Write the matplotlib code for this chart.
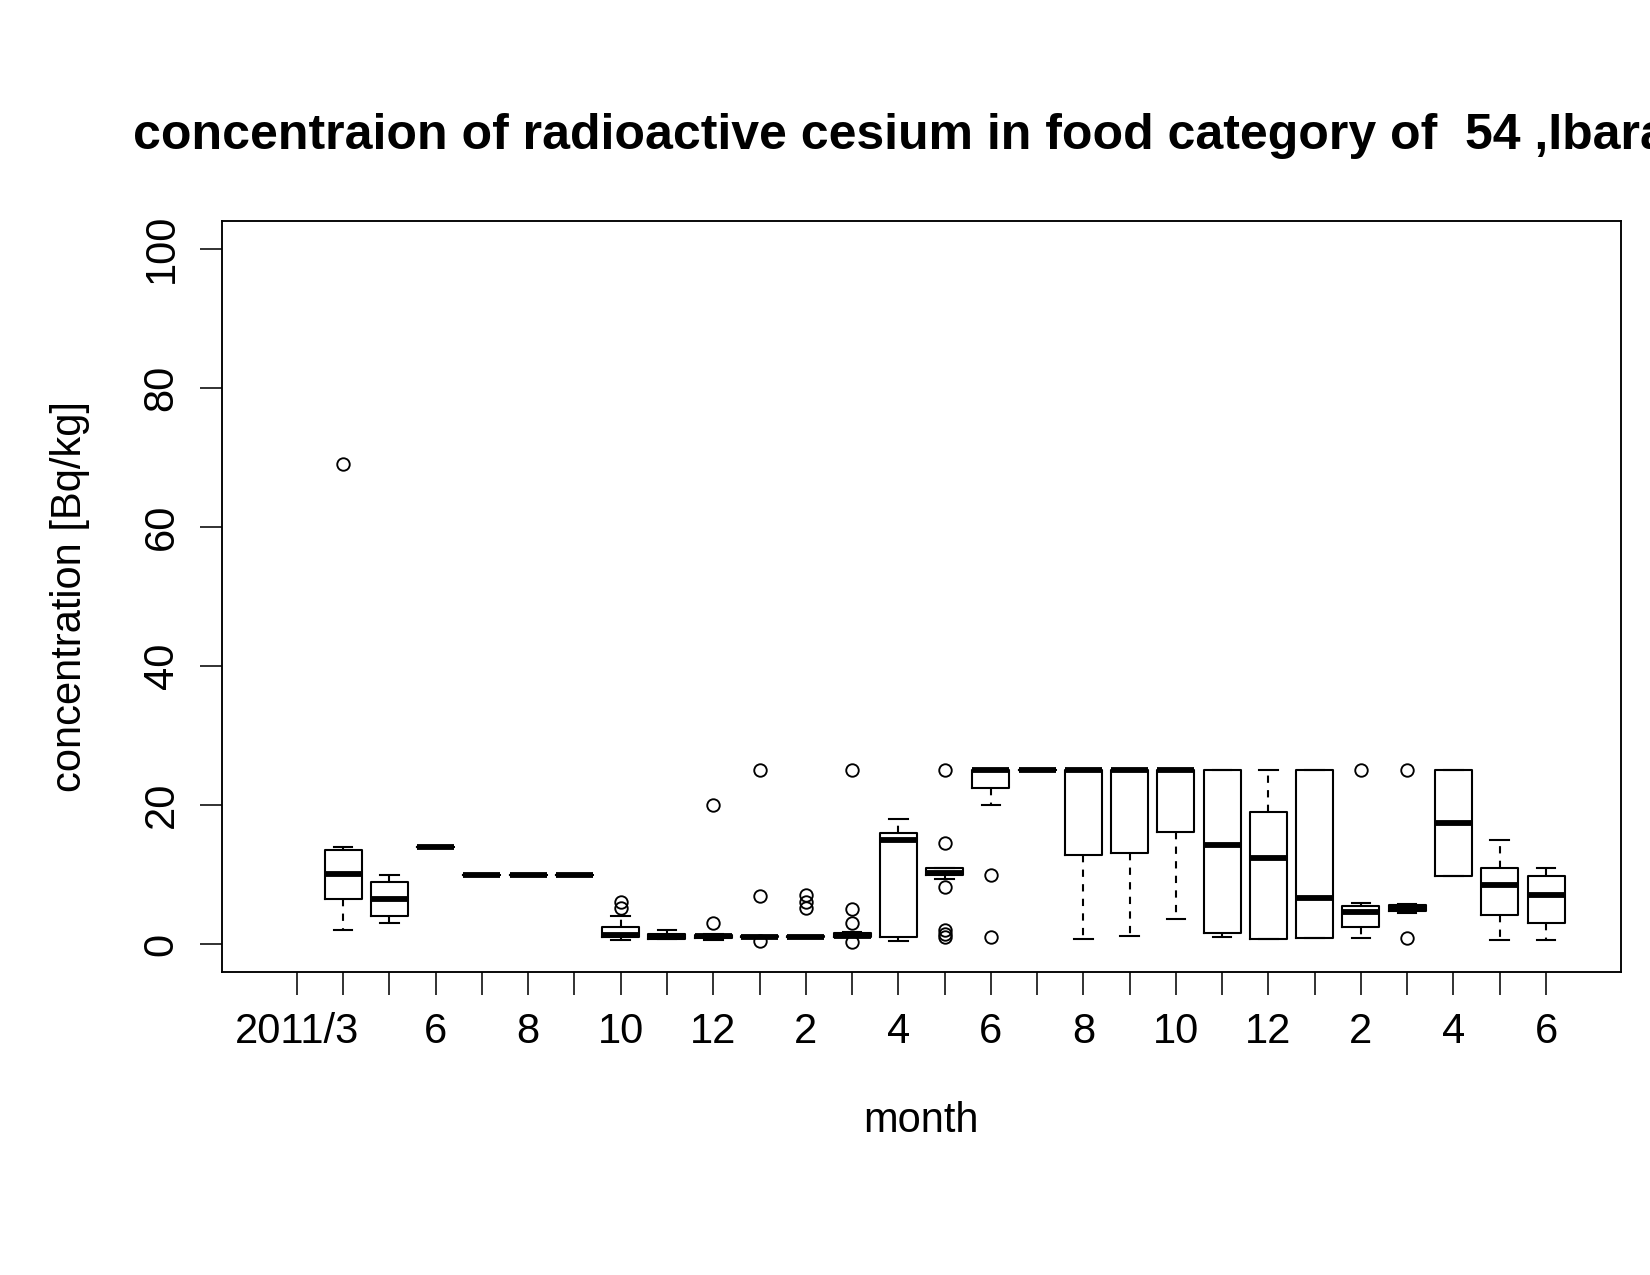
#!/usr/bin/env python
# -*- coding: utf-8 -*-

import matplotlib
matplotlib.use('Agg')
import matplotlib.pyplot as plt

plt.rcParams['font.family'] = ['Liberation Sans', 'DejaVu Sans']

TITLE = 'concentraion of radioactive cesium in food category of  54 ,Ibaraki'

# months 2011/3 .. 2013/6, only some of them get a label
month_labels = ['2011/3', '', '', '6', '', '8', '', '10', '', '12',
                '', '2', '', '4', '', '6', '', '8', '', '10',
                '', '12', '', '2', '', '4', '', '6']

# box statistics for 2011/4 .. 2013/6 (2011/3 has no data)
whislo = [2.0, 3.0, 14, 10, 10, 10, 0.55, 0.7, 0.6, 1.0,
          1.0, 1.0, 0.4, 9.4, 20.0, 25, 0.8, 1.2, 3.6, 1.0,
          0.75, 0.85, 0.9, 4.5, 9.8, 0.65, 0.65]
q1 = [6.5, 4.0, 14, 10, 10, 10, 1.1, 0.8, 0.9, 1.0,
      1.0, 1.0, 1.1, 9.9, 22.5, 25, 12.9, 13.1, 16.1, 1.6,
      0.75, 0.85, 2.5, 4.8, 9.8, 4.2, 3.1]
med = [10.1, 6.5, 14, 10, 10, 10, 1.4, 1.0, 1.2, 1.1,
       1.1, 1.2, 15.0, 10.2, 25.0, 25, 25, 25, 25, 14.3,
       12.4, 6.6, 4.6, 5.2, 17.4, 8.5, 7.1]
q3 = [13.5, 9.0, 14, 10, 10, 10, 2.5, 1.5, 1.4, 1.2,
      1.2, 1.6, 16.0, 11.0, 25.0, 25, 25, 25, 25, 25,
      19.0, 25, 5.5, 5.7, 25, 11.0, 9.85]
whishi = [14.0, 10.0, 14, 10, 10, 10, 4.0, 2.0, 1.5, 1.2,
          1.2, 1.7, 18.0, 11.0, 25.0, 25, 25, 25, 25, 25,
          25, 25, 5.9, 5.75, 25, 15.0, 11.0]
fliers = [[69], [], [], [], [], [], [5.2, 6.1], [], [3.0, 20.0],
          [0.4, 7.0, 25.0], [5.2, 6.1, 7.1], [0.3, 3.1, 5.0, 25.0],
          [], [1.0, 1.5, 2.0, 8.3, 14.5, 25.0], [1.0, 10.0], [],
          [], [], [], [], [], [], [25.0], [0.9, 25.0], [], [], []]


def main():
    stats = []
    for i in range(len(med)):
        stats.append({'whislo': whislo[i], 'q1': q1[i], 'med': med[i],
                      'q3': q3[i], 'whishi': whishi[i], 'fliers': fliers[i]})
    positions = list(range(2, len(med) + 2))

    fig = plt.figure(figsize=(11, 8.5), dpi=150)
    ax = fig.add_axes([0.1345, 0.2376, 0.8479, 0.5891])

    ax.bxp(stats, positions=positions, widths=0.8, capwidths=0.4,
           boxprops=dict(color='black', linewidth=1.0),
           medianprops=dict(color='black', linewidth=2.8, solid_capstyle='butt'),
           whiskerprops=dict(color='black', linewidth=1.0, linestyle=(0, (3.5, 3.5))),
           capprops=dict(color='black', linewidth=1.0),
           flierprops=dict(marker='o', markersize=6, markerfacecolor='none',
                           markeredgecolor='black', markeredgewidth=0.9))

    ax.set_xlim(-0.62, 29.62)
    ax.set_ylim(-4, 104)
    ax.set_xticks(range(1, len(month_labels) + 1))
    ax.set_xticklabels(month_labels, fontsize=20)
    ax.set_yticks([0, 20, 40, 60, 80, 100])
    ax.set_yticklabels(['0', '20', '40', '60', '80', '100'], fontsize=20,
                       rotation=90, va='center')
    ax.tick_params(axis='both', direction='out', length=10.8, width=0.75)
    ax.tick_params(axis='x', pad=8.3)
    ax.tick_params(axis='y', pad=8.6)
    for sp in ax.spines.values():
        sp.set_linewidth(0.9)

    ax.set_title(TITLE, fontsize=24, fontweight='bold', pad=34.5)
    fig.text(921.5 / 1650, 1 - 1121.0 / 1275, 'month', fontsize=20,
             ha='center', va='center')
    fig.text(70.0 / 1650, 1 - 596.0 / 1275, 'concentration [Bq/kg]', fontsize=20,
             ha='center', va='center', rotation=90)

    fig.savefig('out.png', dpi=150)


if __name__ == "__main__":
    main()
